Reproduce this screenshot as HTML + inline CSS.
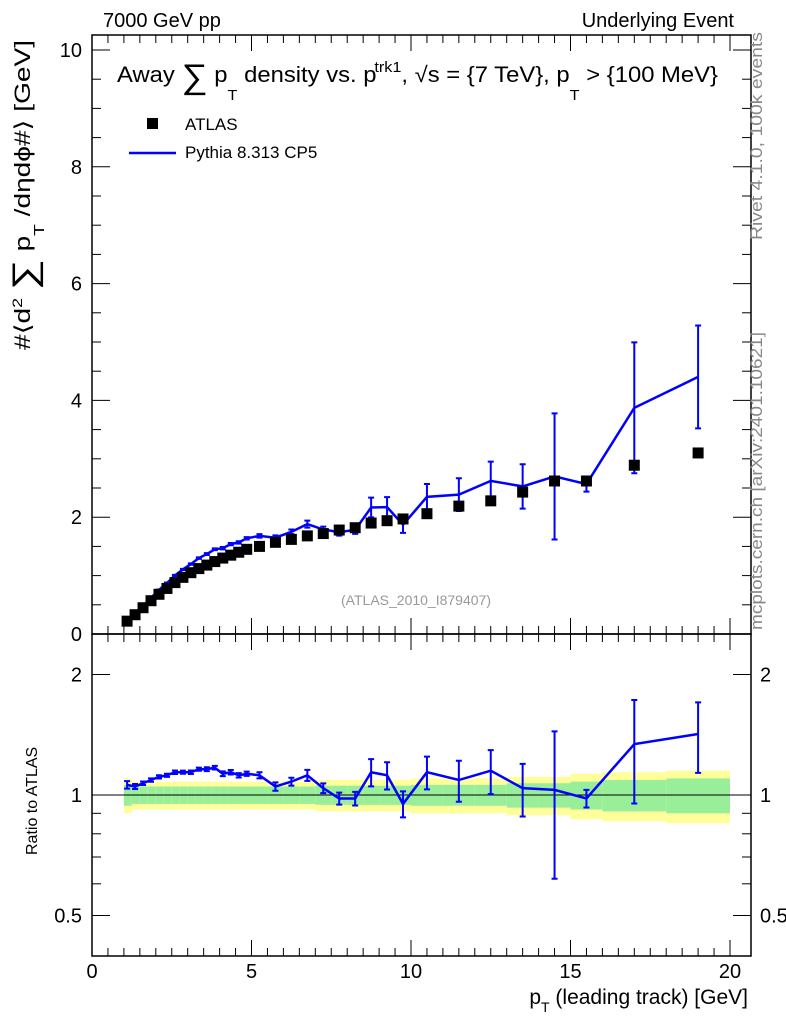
<!DOCTYPE html>
<html><head><meta charset="utf-8"><style>
body{margin:0;background:#fff;font-family:"Liberation Sans",sans-serif}
svg text{font-family:"Liberation Sans","DejaVu Sans",sans-serif}
</style></head><body>
<svg id="c" width="786" height="1024" xmlns="http://www.w3.org/2000/svg"></svg>
<script>
const xs=[1.1,1.35,1.6,1.85,2.1,2.35,2.6,2.85,3.1,3.35,3.6,3.85,4.1,4.35,4.6,4.85,5.25,5.75,6.25,6.75,7.25,7.75,8.25,8.75,9.25,9.75,10.5,11.5,12.5,13.5,14.5,15.5,17,19];
const atlas=[0.22,0.33,0.45,0.57,0.68,0.78,0.88,0.97,1.05,1.12,1.18,1.24,1.30,1.35,1.40,1.45,1.50,1.57,1.62,1.68,1.72,1.78,1.82,1.90,1.94,1.97,2.06,2.19,2.28,2.43,2.62,2.62,2.89,3.10];
const ratio=[1.06,1.05,1.07,1.09,1.11,1.12,1.14,1.14,1.14,1.16,1.16,1.17,1.13,1.14,1.12,1.13,1.12,1.05,1.08,1.12,1.04,0.98,0.98,1.14,1.12,0.95,1.14,1.09,1.15,1.04,1.03,0.98,1.34,1.42];
const mcErr=[0.005,0.005,0.005,0.006,0.007,0.008,0.01,0.01,0.012,0.012,0.015,0.015,0.02,0.02,0.02,0.02,0.03,0.04,0.04,0.06,0.05,0.06,0.07,0.17,0.17,0.14,0.22,0.28,0.33,0.38,1.08,0.13,1.12,0.88];
const bandOuter=[0.10,0.08,0.08,0.08,0.08,0.08,0.08,0.08,0.08,0.08,0.08,0.08,0.08,0.08,0.08,0.08,0.08,0.08,0.08,0.08,0.09,0.09,0.09,0.09,0.09,0.09,0.10,0.10,0.10,0.11,0.11,0.13,0.14,0.15];
const bandInner=[0.06,0.05,0.05,0.05,0.05,0.05,0.05,0.05,0.05,0.05,0.05,0.05,0.05,0.05,0.05,0.05,0.05,0.05,0.05,0.05,0.055,0.055,0.055,0.055,0.055,0.055,0.06,0.06,0.06,0.07,0.07,0.08,0.09,0.10];
const edges=[1,1.25,1.5,1.75,2,2.25,2.5,2.75,3,3.25,3.5,3.75,4,4.25,4.5,4.75,5,5.5,6,6.5,7,7.5,8,8.5,9,9.5,10,11,12,13,14,15,16,18,20];
const mainTicks=[0,2,4,6,8,10];
const xTicks=[0,5,10,15,20];
const rTicks=[0.5,1,2];

const S=document.getElementById('c');const NS='http://www.w3.org/2000/svg';
function el(t,a,txt){const e=document.createElementNS(NS,t);for(const k in a)e.setAttribute(k,a[k]);if(txt!==undefined)e.textContent=txt;S.appendChild(e);return e;}
const L=92,R=751,T=35,M=634,B=956;
const X=v=>92+v*31.9;
const Y=v=>634-v*58.4;
const RY=r=>795-120.5*Math.log2(r);
for(let i=0;i<xs.length;i++){
 let e=el('rect',{x:X(edges[i]),width:X(edges[i+1])-X(edges[i]),y:RY(1+bandOuter[i]),height:RY(1-bandOuter[i])-RY(1+bandOuter[i]),fill:'#ffff99'});
 
 e=el('rect',{x:X(edges[i]),width:X(edges[i+1])-X(edges[i]),y:RY(1+bandInner[i]),height:RY(1-bandInner[i])-RY(1+bandInner[i]),fill:'#99ee99'});
 
}
let e=el('line',{x1:L,x2:R,y1:RY(1),y2:RY(1),stroke:'#000','stroke-width':1});

e=el('rect',{x:L,y:T,width:R-L,height:M-T,fill:'none',stroke:'#000','stroke-width':1.5});

e=el('rect',{x:L,y:M,width:R-L,height:B-M,fill:'none',stroke:'#000','stroke-width':1.5});

for(let v=0;v<=20.01;v+=0.5){const maj=Math.abs(v%5)<0.01;const len=maj?16:8;
 for(const [y0,d] of [[M,-1],[T,1],[B,-1],[M,1]]){el('line',{x1:X(v),x2:X(v),y1:y0,y2:y0+d*len,stroke:'#000'});}}
for(const v of xTicks){e=el('text',{x:X(v),y:978,'font-size':20,'text-anchor':'middle'},String(v));
 }
for(let v=0;v<=10.01;v+=0.5){const maj=Math.abs(v%2)<0.01;const len=maj?18:9;
 el('line',{x1:L,x2:L+len,y1:Y(v),y2:Y(v),stroke:'#000'});el('line',{x1:R,x2:R-len,y1:Y(v),y2:Y(v),stroke:'#000'});}
for(const v of mainTicks){e=el('text',{x:82,y:Y(v)+7,'font-size':20,'text-anchor':'end'},String(v));
 }
for(const v of [0.5,0.6,0.7,0.8,0.9,1,2]){const maj=rTicks.includes(v);const len=maj?18:9;
 el('line',{x1:L,x2:L+len,y1:RY(v),y2:RY(v),stroke:'#000'});el('line',{x1:R,x2:R-len,y1:RY(v),y2:RY(v),stroke:'#000'});}
for(const v of rTicks){const s=String(v);
 e=el('text',{x:82,y:RY(v)+7,'font-size':20,'text-anchor':'end'},s);
 e=el('text',{x:760,y:RY(v)+7,'font-size':20},s);}
const mc=xs.map((x,i)=>atlas[i]*ratio[i]);
e=el('polyline',{points:xs.map((x,i)=>X(x)+','+Y(mc[i])).join(' '),fill:'none',stroke:'#0000ff','stroke-width':2.5});

e=el('polyline',{points:xs.map((x,i)=>X(x)+','+RY(ratio[i])).join(' '),fill:'none',stroke:'#0000ff','stroke-width':2.5});

for(let i=0;i<xs.length;i++){const x=X(xs[i]);
 const a=Y(mc[i]+mcErr[i]),b=Y(mc[i]-mcErr[i]);
 el('path',{d:`M${x},${a}V${b}M${x-3},${a}h6M${x-3},${b}h6`,stroke:'#0000ff','stroke-width':2,fill:'none'});
 const ra=RY(ratio[i]+mcErr[i]/atlas[i]),rb=RY(Math.max(0.3,ratio[i]-mcErr[i]/atlas[i]));
 el('path',{d:`M${x},${ra}V${rb}M${x-3},${ra}h6M${x-3},${rb}h6`,stroke:'#0000ff','stroke-width':2,fill:'none'});
 e=el('rect',{x:x-5.5,y:Y(atlas[i])-5.5,width:11,height:11,fill:'#000'});
 
}
const tx=(x,y,s,t,extra)=>{const o=Object.assign({x,y,'font-size':s},extra||{});return el('text',o,t);};
e=tx(103,27,20,'7000 GeV pp');
e=tx(734,27,20,'Underlying Event',{'text-anchor':'end'});
e=el('text',{x:117,y:82,'font-size':22,textLength:601,lengthAdjust:'spacingAndGlyphs'});
e.innerHTML='Away <tspan font-size="34" dy="6">∑</tspan><tspan dy="-6"> p</tspan><tspan font-size="15" dy="18">T</tspan><tspan dy="-18"> density vs. p</tspan><tspan font-size="15" dy="-10" dx="-2">trk1</tspan><tspan dy="10">, √s = {7 TeV}, p</tspan><tspan font-size="15" dy="18">T</tspan><tspan dy="-18"> &gt; {100 MeV}</tspan>';
e=el('rect',{x:147,y:118,width:11,height:11,fill:'#000'});
e=tx(185,130,17,'ATLAS');
e=el('line',{x1:129,x2:176,y1:153,y2:153,stroke:'#0000ff','stroke-width':2.5});
e=tx(185,158,17,'Pythia 8.313 CP5');
e=tx(416,605,14,'(ATLAS_2010_I879407)',{'text-anchor':'middle',fill:'#999'});
e=tx(0,0,17,'Rivet 4.1.0,  100k events',{fill:'#888',transform:'translate(762,240) rotate(-90)',textLength:208,lengthAdjust:'spacingAndGlyphs'});
e=tx(0,0,17,'mcplots.cern.ch [arXiv:2401.10621]',{fill:'#888',transform:'translate(762,630) rotate(-90)',textLength:298,lengthAdjust:'spacingAndGlyphs'});
e=el('text',{transform:'translate(30,350) rotate(-90)','font-size':22,textLength:310,lengthAdjust:'spacingAndGlyphs'});
e.innerHTML='#⟨d<tspan font-size="14" dy="-8">2</tspan><tspan dy="8"> </tspan><tspan font-size="34" dy="6">∑</tspan><tspan dy="-6"> p</tspan><tspan font-size="15" dy="14">T</tspan><tspan dy="-14"> /dηdϕ#⟩ [GeV]</tspan>';
e=tx(0,0,16,'Ratio to ATLAS',{transform:'translate(37,855) rotate(-90)'});
e=el('text',{x:748,y:1004,'font-size':21,'text-anchor':'end'});
e.innerHTML='p<tspan font-size="14" dy="8">T</tspan><tspan dy="-8"> (leading track) [GeV]</tspan>';
</script>
</body></html>
